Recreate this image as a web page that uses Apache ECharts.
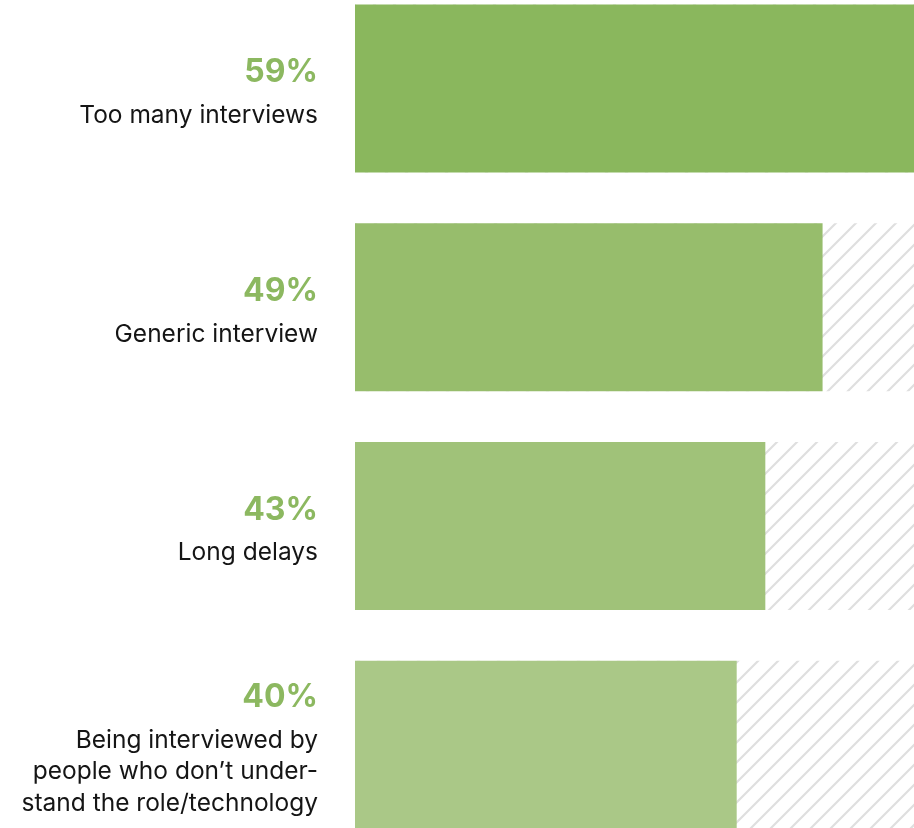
<!DOCTYPE html>
<html>
<head>
<meta charset="utf-8">
<script src="https://cdn.jsdelivr.net/npm/echarts@6/dist/echarts.min.js"></script>
<style>
  html, body { margin: 0; padding: 0; background: #ffffff; overflow: hidden; width: 914px; height: 828px; }
  #chart { position: absolute; left: 0; top: -21px; width: 918px; height: 875px; }
</style>
</head>
<body>
<div id="chart"></div>
<script>
// Survey answers and their shares (percent)
const categories = [
  'Too many interviews',
  'Generic interview',
  'Long delays',
  'Being interviewed by\npeople who don\u2019t under-\nstand the role/technology'
];
const values = [59, 49, 43, 40];
const barColors = ['#8ab75d', '#97bd6c', '#a0c279', '#aac887'];
const axisMax = 59;

// Diagonal hatch tile used behind each bar
function makeHatch() {
  const c = document.createElement('canvas');
  c.width = 20; c.height = 20;
  const ctx = c.getContext('2d');
  ctx.fillStyle = '#ffffff';
  ctx.fillRect(0, 0, 20, 20);
  ctx.strokeStyle = '#dfdfdf';
  ctx.lineWidth = 2.2;
  ctx.beginPath();
  ctx.moveTo(-2, 22); ctx.lineTo(22, -2);
  ctx.moveTo(-2, 2); ctx.lineTo(2, -2);
  ctx.moveTo(18, 22); ctx.lineTo(22, 18);
  ctx.stroke();
  return c;
}
const hatch = makeHatch();

const chart = echarts.init(document.getElementById('chart'), null, { renderer: 'canvas' });
const PCT_FONT = 'Inter, "Open Sans", sans-serif';
const TXT_FONT = 'Inter, "Open Sans", sans-serif';

chart.setOption({
  animation: false,
  grid: { left: 355, right: 0, top: 0, bottom: 0, containLabel: false },
  xAxis: {
    type: 'value', min: 0, max: axisMax,
    show: false
  },
  yAxis: {
    type: 'category',
    data: categories,
    inverse: true,
    axisLine: { show: false },
    axisTick: { show: false },
    axisLabel: {
      margin: 37,
      align: 'right',
      formatter: function (name, idx) {
        return '{p|' + values[idx] + '%}\n{c|' + name.split('\n').join('}\n{c|') + '}';
      },
      rich: {
        p: { fontFamily: PCT_FONT, fontWeight: 'bold', fontSize: 32, color: '#8cb860', lineHeight: 54.5, align: 'right' },
        c: { fontFamily: TXT_FONT, fontSize: 24.5, color: '#151515', lineHeight: 31.5, align: 'right' }
      }
    }
  },
  series: [{
    type: 'bar',
    barWidth: 168,
    showBackground: true,
    backgroundStyle: { color: { image: hatch, repeat: 'repeat' } },
    data: values.map((v, i) => ({ value: v, itemStyle: { color: barColors[i] } })),
    label: { show: false }
  }]
});
</script>
</body>
</html>
